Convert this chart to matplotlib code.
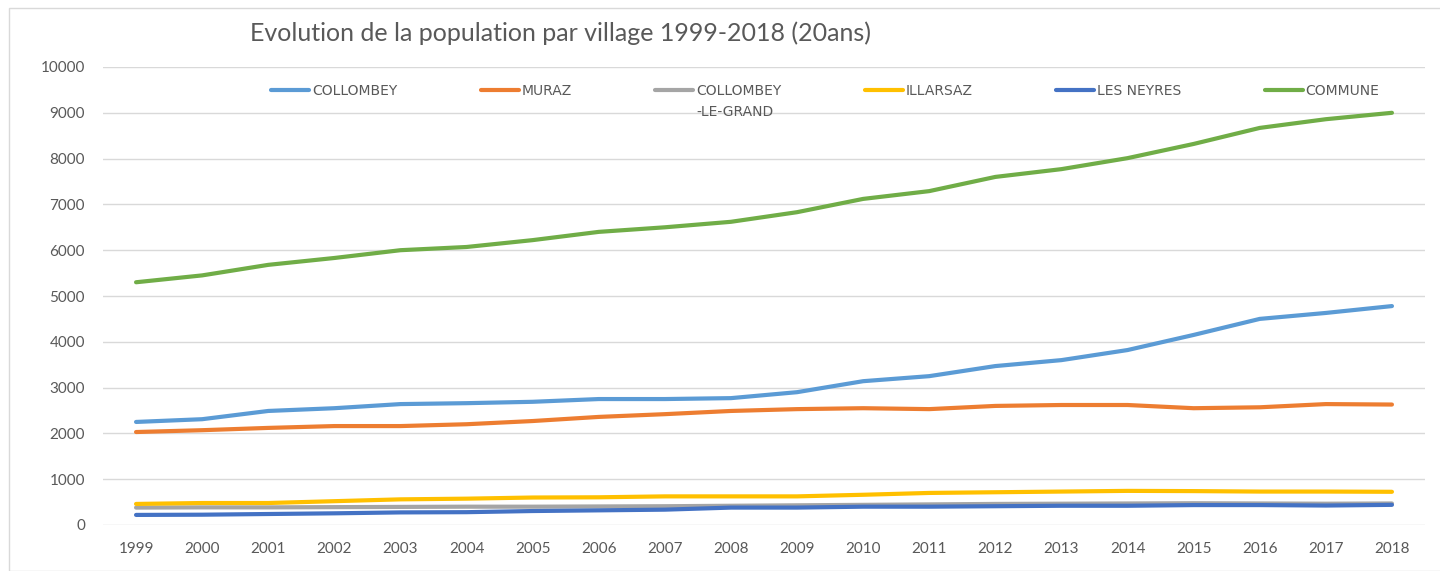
import numpy as np
import matplotlib
matplotlib.use('Agg')
import matplotlib.pyplot as plt
from matplotlib.patches import Rectangle

# donnees
years = [str(y) for y in range(1999, 2019)]
collombey = [2250, 2310, 2490, 2550, 2640, 2660, 2690, 2750, 2750, 2770,
             2900, 3140, 3250, 3470, 3600, 3820, 4150, 4500, 4630, 4780]
muraz = [2030, 2070, 2120, 2160, 2160, 2200, 2270, 2360, 2420, 2490,
         2530, 2550, 2530, 2600, 2620, 2620, 2550, 2570, 2640, 2630]
collombey_le_grand = [380, 385, 385, 390, 395, 400, 400, 405, 410, 420,
                      430, 440, 450, 460, 465, 470, 475, 470, 465, 470]
illarsaz = [460, 480, 480, 520, 560, 575, 600, 605, 625, 625,
            625, 660, 700, 715, 730, 745, 740, 730, 730, 725]
les_neyres = [220, 225, 240, 255, 275, 280, 305, 320, 335, 380,
              380, 400, 400, 410, 420, 420, 435, 435, 425, 440]
commune = [5300, 5450, 5680, 5830, 6000, 6070, 6220, 6400, 6500, 6620,
           6830, 7120, 7290, 7600, 7770, 8010, 8320, 8670, 8860, 9000]

series = [
    ('COLLOMBEY', collombey, '#5B9BD5'),
    ('MURAZ', muraz, '#ED7D31'),
    ('COLLOMBEY', collombey_le_grand, '#A5A5A5'),
    ('ILLARSAZ', illarsaz, '#FFC000'),
    ('LES NEYRES', les_neyres, '#4472C4'),
    ('COMMUNE', commune, '#70AD47'),
]

txt = '#595959'
plt.rcParams['font.family'] = ['Lato', 'DejaVu Sans']
leg_font = {'family': ['Liberation Sans Narrow', 'DejaVu Sans'], 'size': 10}

fig = plt.figure(figsize=(14.4, 5.71), dpi=100)
ax = fig.add_axes([103/1440, 46/571, 1322/1440, 458/571])

x = np.arange(len(years))
for name, vals, col in series:
    ax.plot(x, vals, color=col, lw=3, label=name, solid_capstyle='round')

ax.set_xlim(-0.5, len(years) - 0.5)
ax.set_ylim(0, 10000)
ax.set_yticks(range(0, 10001, 1000))
ax.set_xticks(x)
ax.set_xticklabels(years)
ax.tick_params(length=0, labelsize=11, colors=txt)
ax.tick_params(axis='x', pad=12)
ax.tick_params(axis='y', pad=13)
ax.grid(axis='y', color='#d9d9d9', lw=1)
ax.set_axisbelow(True)
for s in ax.spines.values():
    s.set_visible(False)

leg = ax.legend(ncol=6, loc='upper left', bbox_to_anchor=(271/1440, 1 - 84/571),
                bbox_transform=fig.transFigure, frameon=False, prop=leg_font,
                handlelength=2.75, handletextpad=0.2, columnspacing=6.0,
                borderpad=0, borderaxespad=0)
for t in leg.get_texts():
    t.set_color(txt)

# seconde ligne du libelle COLLOMBEY-LE-GRAND
fig.canvas.draw()
bb = leg.get_texts()[2].get_window_extent()
fig.text(bb.x0 / 1440, (bb.y0 - 21) / 571, '-LE-GRAND', fontproperties=None,
         family=leg_font['family'], fontsize=10, color=txt, ha='left', va='bottom')

fig.text(561/1440, 1 - 33/571, 'Evolution de la population par village 1999-2018 (20ans)',
         ha='center', va='center', fontsize=18, color=txt)

# cadre du graphique
fig.patches.append(Rectangle((9/1440, 0), 1.1, 1 - 8/571, transform=fig.transFigure,
                             fill=False, ec='#d9d9d9', lw=1))

fig.savefig('out.png', dpi=100)
